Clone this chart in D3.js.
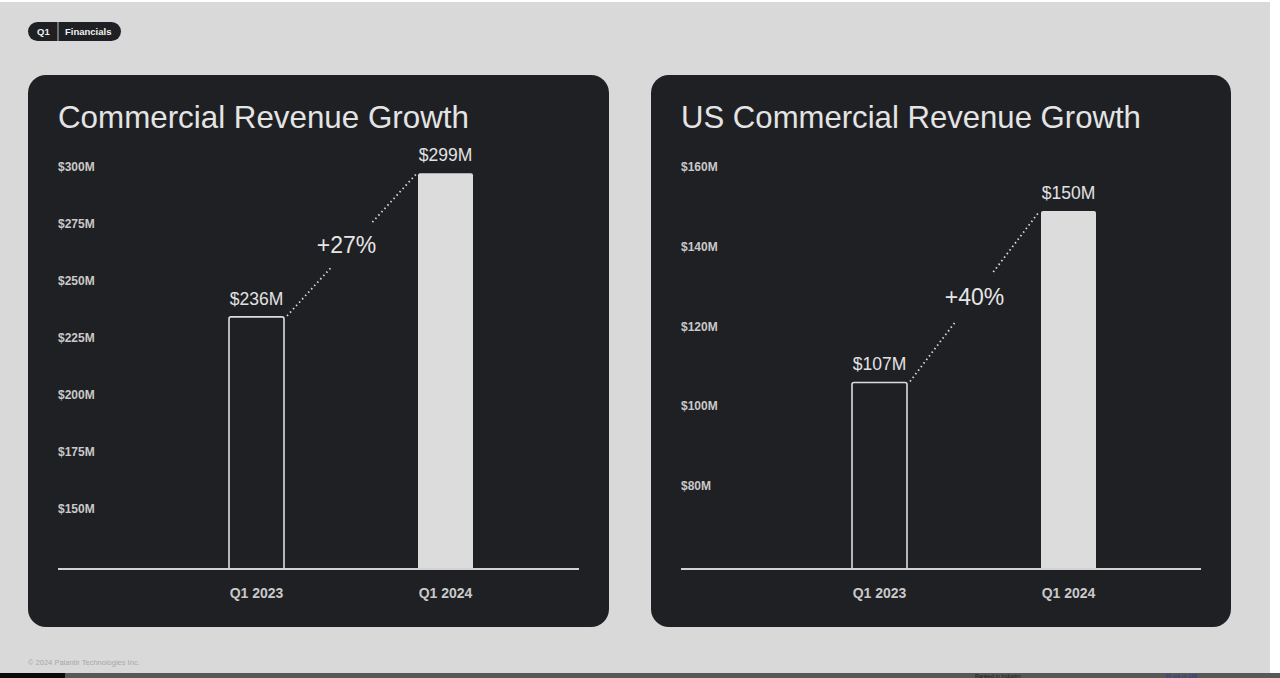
<!DOCTYPE html>
<html>
<head>
<meta charset="utf-8">
<script src="https://cdn.jsdelivr.net/npm/d3@7"></script>
<style>
  html, body { margin: 0; padding: 0; background: #ffffff; }
  svg { display: block; }
  text { font-family: "Liberation Sans", Arial, "Helvetica Neue", sans-serif; }
</style>
</head>
<body>
<svg id="chart" width="1280" height="678"></svg>
<script>
// ---- data ----
const categories = ["Q1 2023", "Q1 2024"];
const commercialRevenue = [236, 299];
const usCommercialRevenue = [107, 150];
const commercialTicks = [150, 175, 200, 225, 250, 275, 300];
const usTicks = [80, 100, 120, 140, 160];
const growthLabels = ["+27%", "+40%"];
const chartTitles = ["Commercial Revenue Growth", "US Commercial Revenue Growth"];
const valueFormat = v => "$" + v + "M";

const svg = d3.select("#chart");

// page background (slide area)
svg.append("rect").attr("x", 0).attr("y", 2).attr("width", 1270).attr("height", 671).attr("fill", "#d9d9d9");

// bottom strip artifact
svg.append("rect").attr("x", 0).attr("y", 673).attr("width", 1280).attr("height", 5).attr("fill", "#585858");
svg.append("rect").attr("x", 0).attr("y", 673).attr("width", 65).attr("height", 5).attr("fill", "#0a0a0a");
svg.append("text").attr("x", 975).attr("y", 677.5).attr("font-size", 5.5).attr("fill", "#1a1a1a").text("Ranked in Industry");
svg.append("text").attr("x", 1165).attr("y", 677.5).attr("font-size", 5.5).attr("fill", "#2b3f8c").text("46 out of 188");

// pill
const pill = svg.append("g");
pill.append("rect").attr("x", 28).attr("y", 22).attr("width", 93).attr("height", 19).attr("rx", 9.5).attr("fill", "#1f2024");
pill.append("line").attr("x1", 58).attr("x2", 58).attr("y1", 22).attr("y2", 41).attr("stroke", "#bdbdbd").attr("stroke-width", 1);
pill.append("text").attr("x", 37).attr("y", 35).attr("font-size", 9.5).attr("font-weight", 700).attr("fill", "#f0f0f0").text("Q1");
pill.append("text").attr("x", 65).attr("y", 35).attr("font-size", 9.5).attr("font-weight", 700).attr("fill", "#f0f0f0").text("Financials");

// footer
svg.append("text").attr("x", 28).attr("y", 665).attr("font-size", 7.5).attr("fill", "#a8a8a8").text("© 2024 Palantir Technologies Inc.");

function drawPanel(opts) {
  const g = svg.append("g").attr("transform", `translate(${opts.px},75)`);
  g.append("rect").attr("x", 0).attr("y", 0).attr("width", opts.pw).attr("height", 552).attr("rx", 18).attr("fill", "#1f2024");

  // title, fitted to width
  const t = g.append("text").attr("x", 30).attr("y", 53).attr("font-size", 31).attr("fill", "#e4e4e4").text(opts.title);
  const w = t.node().getComputedTextLength();
  t.attr("font-size", 31 * opts.titleWidth / w);

  const axisX0 = 30, axisX1 = opts.pw - 30;
  const y = d3.scaleLinear().domain(opts.domain).range([495, 96]);
  const x = d3.scaleBand().domain(categories).range([201, 445]).paddingInner(0.709).paddingOuter(0);

  // tick labels
  g.selectAll(".tick").data(opts.ticks).join("text")
    .attr("x", axisX0).attr("y", d => y(d))
    .attr("font-size", 12).attr("font-weight", 700).attr("fill", "#c9c9c9")
    .text(valueFormat);

  const base = 494;
  // bars
  const data = categories.map((c, i) => ({ c, v: opts.values[i], i }));
  g.selectAll(".bar").data(data).join("path")
    .attr("d", d => {
      const x0 = x(d.c), x1 = x0 + x.bandwidth(), y0 = y(d.v), r = 2;
      return `M${x0},${base} L${x0},${y0 + r} Q${x0},${y0} ${x0 + r},${y0} L${x1 - r},${y0} Q${x1},${y0} ${x1},${y0 + r} L${x1},${base}` + (d.i === 1 ? " Z" : "");
    })
    .attr("fill", d => d.i === 1 ? "#dcdcdc" : "none")
    .attr("stroke", d => d.i === 1 ? "none" : "#dcdcdc")
    .attr("stroke-width", 1.6);

  // axis line
  g.append("line").attr("x1", axisX0).attr("x2", axisX1).attr("y1", base).attr("y2", base)
    .attr("stroke", "#d2d2d2").attr("stroke-width", 2);

  // value labels
  g.selectAll(".val").data(data).join("text")
    .attr("x", d => x(d.c) + x.bandwidth() / 2).attr("y", d => y(d.v) - 12)
    .attr("text-anchor", "middle").attr("font-size", 17.5).attr("fill", "#e2e2e2")
    .text(d => valueFormat(d.v));

  // category labels
  g.selectAll(".cat").data(categories).join("text")
    .attr("x", d => x(d) + x.bandwidth() / 2).attr("y", 523)
    .attr("text-anchor", "middle").attr("font-size", 14).attr("font-weight", 700).attr("fill", "#c9c9c9")
    .text(d => d);

  // dotted connector with gap
  const sx = x(categories[0]) + x.bandwidth() + 3, sy = y(opts.values[0]) - 1;
  const ex = x(categories[1]) - 2, ey = y(opts.values[1]) + 1;
  const len = Math.hypot(ex - sx, ey - sy);
  const ux = (ex - sx) / len, uy = (ey - sy) / len;
  const mx = (sx + ex) / 2, my = (sy + ey) / 2;
  const gap = 31;
  [[sx, sy, mx - ux * gap, my - uy * gap], [mx + ux * gap, my + uy * gap, ex, ey]].forEach(s => {
    g.append("line").attr("x1", s[0]).attr("y1", s[1]).attr("x2", s[2]).attr("y2", s[3])
      .attr("stroke", "#d8d8d8").attr("stroke-width", 1.8).attr("stroke-dasharray", "1.5,3");
  });
  g.append("text").attr("x", mx - opts.growthShift).attr("y", my + 8)
    .attr("text-anchor", "middle").attr("font-size", 23).attr("fill", "#e6e6e6")
    .text(opts.growth);
}

drawPanel({ px: 28, pw: 581, title: chartTitles[0], titleWidth: 411, domain: [125, 300],
  ticks: commercialTicks, values: commercialRevenue, growth: growthLabels[0], growthShift: 5 });
drawPanel({ px: 651, pw: 580, title: chartTitles[1], titleWidth: 460, domain: [60, 160],
  ticks: usTicks, values: usCommercialRevenue, growth: growthLabels[1], growthShift: 0 });
</script>
</body>
</html>
